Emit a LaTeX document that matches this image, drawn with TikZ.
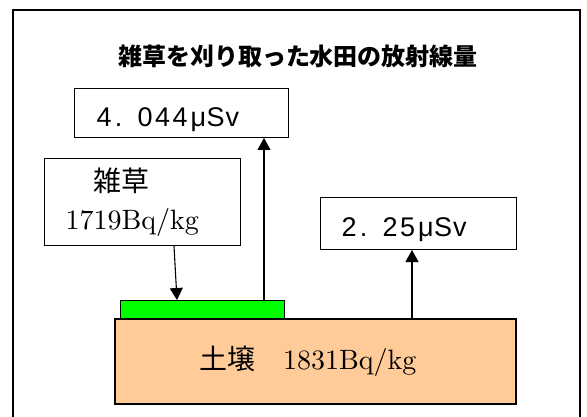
\documentclass[tikz,border=0pt]{standalone}
\usepackage{fontspec}
\usetikzlibrary{arrows.meta}
\newfontfamily\cjk{Noto Sans CJK JP}
\newfontfamily\lmten{lmroman10-regular.otf}
\newfontfamily\gothsans{Liberation Sans}
\newcommand{\dgk}{\kern2.5pt}
\definecolor{soilc}{HTML}{FFCC99}
\definecolor{grassc}{HTML}{00FF00}
\begin{document}
\begin{tikzpicture}[x=1pt,y=-1pt,
  box/.style={draw=black, line width=1pt, fill=white, inner ysep=0pt, align=left},
  arr/.style={line width=1.1pt, -{Triangle[length=12pt,width=13pt]}},
  dosefont/.style={font=\gothsans\fontsize{27}{30}\selectfont, text depth=0pt},
  serif28/.style={font=\lmten\fontsize{28}{38}\selectfont}
]
\useasboundingbox (0,0) rectangle (587,417);
\fill[white] (0,0) rectangle (587,417);
\draw[line width=1.8pt] (13,418) -- (13,10) -- (580,10) -- (580,418);

\node[font=\cjk\bfseries\fontsize{24}{28}\selectfont] (title) at (298,56) {雑草を刈り取った水田の放射線量};

\node[box, dosefont, anchor=north west, minimum width=214pt, minimum height=49pt,
      text width=194pt, inner xsep=10pt, text height=27pt] (dose1) at (74,88)
      {\kern12pt 4\kern3.5pt.\kern15pt 0\dgk 4\dgk 4\kern3pt μ\kern0.5pt S\kern1pt v};

\node[box, dosefont, anchor=north west, minimum width=196pt, minimum height=52pt,
      text width=176pt, inner xsep=10pt, text height=26pt] (dose2) at (320,197)
      {\kern11pt 2\kern3.5pt.\kern15pt 2\dgk 5\kern3pt μ\kern0.5pt S\kern1pt v};

\node[box, serif28, anchor=north west, minimum width=196pt, minimum height=87pt,
      text width=154pt, inner xsep=21pt] (weed) at (44,158) {{\cjk 　雑草}\\1719Bq/kg};

\node[draw=black, line width=1.6pt, fill=soilc, serif28, anchor=north west,
      minimum width=401pt, minimum height=85pt, inner sep=0pt] (soil) at (114,318)
      {\hspace*{-15pt}{\cjk 土壌　}1831Bq/kg};

\node[draw=black, line width=1.2pt, fill=grassc, anchor=north west,
      minimum width=164pt, minimum height=18pt, inner sep=0pt] (grass) at (120,300) {};

\coordinate (wx1) at (174,0);
\coordinate (wx2) at (177,0);
\coordinate (ux) at (264,0);
\coordinate (vx) at (412,0);

\draw[arr] (weed.south -| wx1) -- (grass.north -| wx2);
\draw[arr] (grass.north -| ux) -- (dose1.south -| ux);
\draw[arr] (soil.north -| vx) -- (dose2.south -| vx);
\end{tikzpicture}
\end{document}
